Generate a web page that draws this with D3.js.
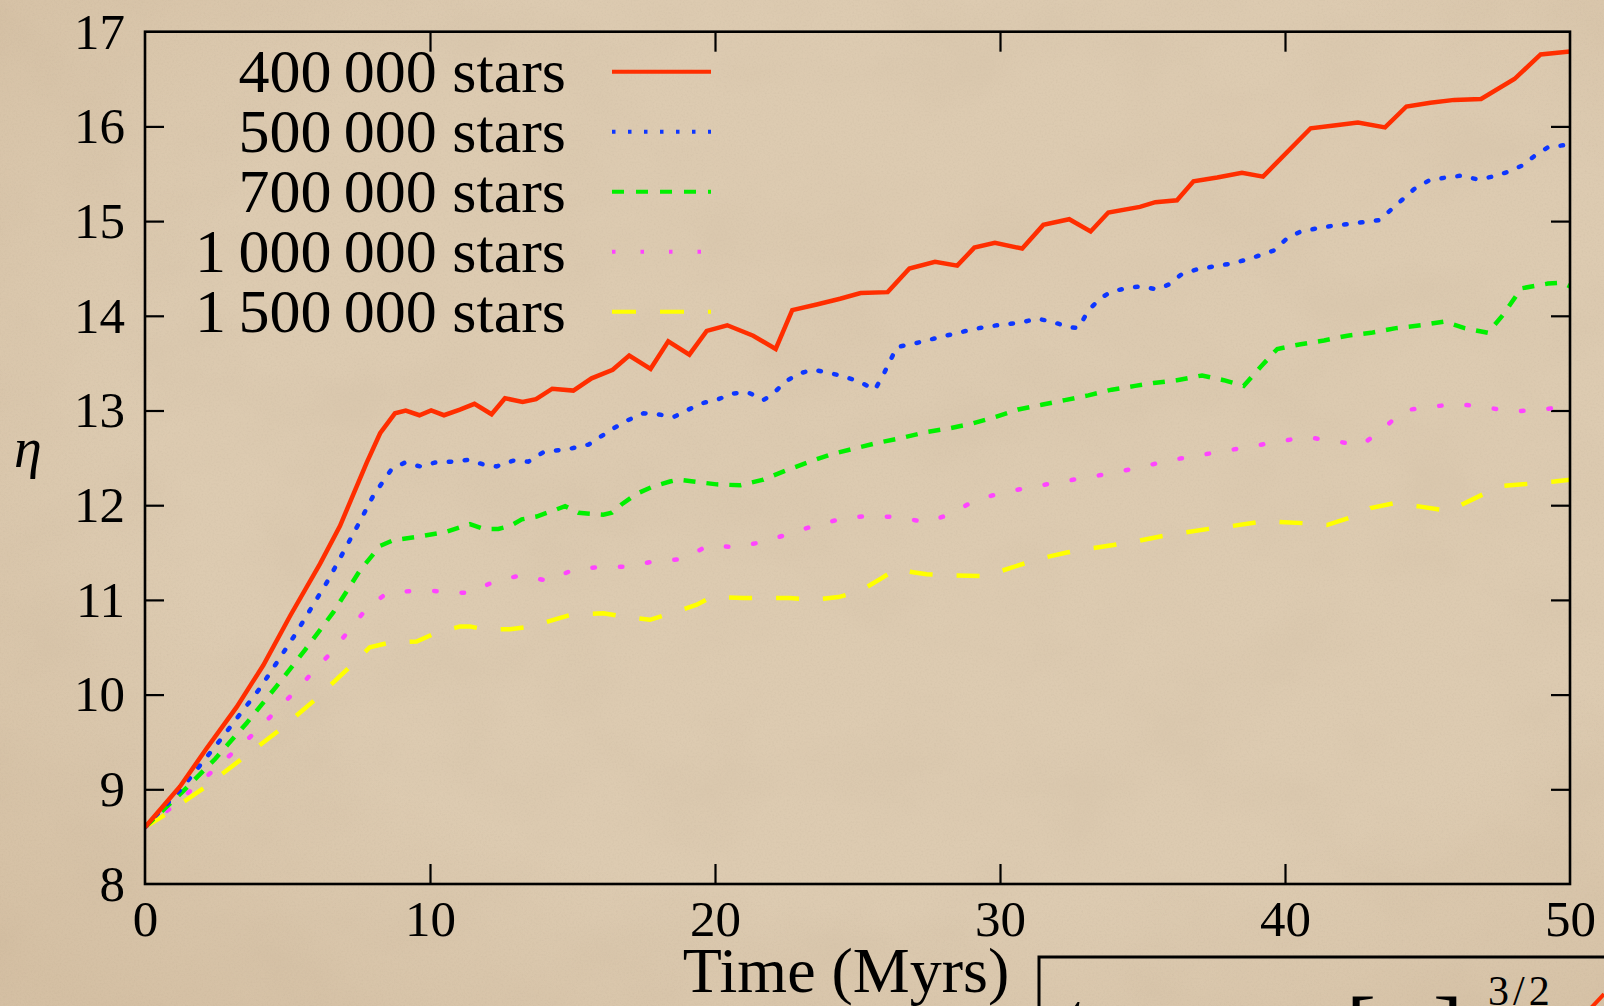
<!DOCTYPE html>
<html>
<head>
<meta charset="utf-8">
<script src="https://cdn.jsdelivr.net/npm/d3@7"></script>
<style>
  html, body { margin: 0; padding: 0; background: #dccab0; overflow: hidden; }
  svg { display: block; }
</style>
</head>
<body>
<svg id="chart" width="1604" height="1006"></svg>
<script>
// η versus time, [time (Myrs), η] samples per cluster size
const stars400k = [[0,8.60],[1.23,9.03],[2.16,9.43],[3.22,9.87],[4.15,10.31],[5.09,10.83],[6.14,11.38],[6.84,11.78],[7.78,12.45],[8.25,12.76],[8.77,12.97],[9.15,13.00],[9.63,12.95],[10.04,13.00],[10.49,12.95],[11.05,13.01],[11.56,13.07],[12.16,12.96],[12.63,13.13],[13.25,13.09],[13.72,13.12],[14.29,13.23],[15.03,13.21],[15.67,13.34],[16.41,13.43],[16.99,13.58],[17.74,13.44],[18.36,13.73],[19.10,13.59],[19.71,13.84],[20.43,13.90],[21.34,13.79],[22.13,13.65],[22.71,14.06],[23.57,14.12],[24.39,14.18],[25.11,14.24],[26.06,14.25],[26.82,14.50],[27.72,14.57],[28.50,14.53],[29.10,14.72],[29.82,14.77],[30.78,14.71],[31.52,14.96],[32.43,15.02],[33.18,14.89],[33.80,15.09],[34.91,15.15],[35.45,15.20],[36.21,15.22],[36.79,15.42],[37.62,15.46],[38.49,15.51],[39.23,15.47],[40.90,15.98],[41.72,16.01],[42.56,16.04],[43.51,15.99],[44.26,16.21],[45.10,16.25],[45.94,16.28],[46.88,16.29],[48.05,16.50],[48.97,16.76],[50.0,16.79]];

const stars500k = [[0,8.60],[1.29,9.01],[2.69,9.54],[4.04,10.07],[5.26,10.63],[6.43,11.21],[7.49,11.80],[8.01,12.10],[8.65,12.38],[9.12,12.45],[9.65,12.41],[10.18,12.45],[10.76,12.46],[11.35,12.48],[11.87,12.43],[12.34,12.41],[12.92,12.47],[13.45,12.46],[13.98,12.56],[14.97,12.60],[15.56,12.64],[16.43,12.81],[16.96,12.90],[17.49,12.97],[18.01,12.96],[18.54,12.93],[19.07,13.01],[19.59,13.08],[20.12,13.12],[20.64,13.18],[21.17,13.19],[21.70,13.11],[22.05,13.18],[22.45,13.30],[22.93,13.39],[23.45,13.43],[23.98,13.40],[24.50,13.36],[25.03,13.31],[25.61,13.22],[25.91,13.38],[26.38,13.67],[26.90,13.70],[27.43,13.74],[27.96,13.78],[28.54,13.82],[29.07,13.86],[29.65,13.89],[30.18,13.91],[30.76,13.93],[31.29,13.97],[31.81,13.94],[32.40,13.88],[32.75,13.87],[33.11,14.06],[33.51,14.18],[33.87,14.25],[34.39,14.29],[34.92,14.31],[35.50,14.28],[35.92,14.33],[36.38,14.44],[36.91,14.49],[37.49,14.52],[38.08,14.55],[38.61,14.59],[39.13,14.64],[39.61,14.69],[40.08,14.82],[40.55,14.89],[41.07,14.92],[41.66,14.95],[42.25,14.97],[42.78,14.99],[43.31,15.01],[43.72,15.12],[44.13,15.23],[44.54,15.34],[45.06,15.43],[45.65,15.46],[46.18,15.48],[46.76,15.44],[47.29,15.47],[47.82,15.52],[48.35,15.59],[48.76,15.69],[49.23,15.78],[50.0,15.81]];

const stars700k = [[0,8.60],[1.34,8.98],[2.46,9.32],[3.57,9.70],[4.62,10.09],[5.61,10.47],[6.61,10.87],[7.54,11.31],[8.25,11.57],[8.71,11.63],[9.65,11.67],[10.59,11.72],[11.40,11.80],[11.87,11.75],[12.40,11.75],[12.81,11.78],[13.22,11.85],[13.74,11.88],[14.39,11.95],[14.74,11.99],[15.21,11.92],[16.08,11.90],[16.38,11.92],[16.73,12.01],[17.25,12.12],[17.84,12.20],[18.42,12.25],[18.71,12.27],[19.24,12.25],[20.06,12.22],[20.88,12.21],[21.70,12.27],[22.52,12.37],[23.33,12.46],[24.10,12.54],[24.91,12.60],[25.73,12.66],[26.55,12.71],[27.37,12.77],[28.19,12.81],[29.00,12.86],[29.82,12.93],[30.64,13.01],[31.46,13.06],[32.28,13.11],[33.10,13.16],[33.92,13.22],[34.74,13.26],[35.39,13.29],[36.21,13.32],[37.09,13.37],[37.85,13.32],[38.55,13.26],[39.14,13.46],[39.73,13.65],[40.55,13.70],[41.37,13.74],[42.19,13.79],[43.02,13.82],[43.89,13.87],[44.77,13.90],[45.60,13.94],[46.30,13.87],[47.12,13.82],[47.65,14.01],[48.29,14.29],[49.23,14.34],[49.70,14.35],[50.0,14.31]];

const stars1000k = [[0,8.60],[0.94,8.81],[2.40,9.20],[3.86,9.60],[5.19,10.01],[6.55,10.45],[7.78,10.91],[8.48,11.07],[9.53,11.10],[10.47,11.09],[11.40,11.07],[12.28,11.20],[13.22,11.26],[14.15,11.20],[15.03,11.32],[16.02,11.35],[16.96,11.35],[17.90,11.41],[18.87,11.43],[19.73,11.57],[20.70,11.56],[21.68,11.61],[22.61,11.70],[23.55,11.79],[24.50,11.86],[25.46,11.89],[26.46,11.87],[27.41,11.82],[28.31,11.91],[29.16,12.06],[30.10,12.13],[31.05,12.19],[32.01,12.24],[32.98,12.29],[33.95,12.34],[34.92,12.40],[35.88,12.47],[36.85,12.52],[37.83,12.57],[38.79,12.62],[39.75,12.67],[40.72,12.72],[41.69,12.68],[42.66,12.63],[43.42,12.80],[44.16,13.00],[45.12,13.04],[46.09,13.07],[47.08,13.03],[48.05,12.99],[49.03,13.01],[50.0,13.05]];

const stars1500k = [[0,8.60],[0.64,8.72],[2.05,9.01],[3.39,9.32],[4.74,9.63],[6.02,9.96],[7.25,10.31],[7.89,10.50],[8.60,10.55],[9.53,10.56],[10.12,10.64],[11.05,10.72],[11.40,10.72],[11.87,10.69],[12.81,10.69],[13.57,10.72],[14.45,10.80],[14.92,10.84],[16.08,10.86],[16.85,10.82],[17.72,10.79],[18.48,10.86],[19.36,10.95],[19.88,11.03],[20.99,11.02],[22.63,11.02],[23.43,11.00],[24.33,11.03],[25.07,11.09],[25.85,11.23],[26.32,11.32],[27.43,11.27],[28.19,11.26],[29.53,11.25],[29.88,11.29],[30.70,11.37],[31.46,11.44],[32.34,11.50],[33.10,11.54],[33.98,11.58],[34.80,11.62],[35.62,11.67],[36.45,11.71],[37.32,11.75],[38.14,11.78],[39.02,11.82],[39.43,11.83],[40.66,11.81],[41.47,11.79],[42.30,11.87],[43.00,11.97],[43.82,12.02],[44.64,11.99],[45.76,11.94],[46.23,12.01],[47.05,12.13],[47.52,12.20],[48.69,12.23],[49.45,12.25],[50.0,12.27]];

const seriesLabels = ["400\u2009000 stars", "500\u2009000 stars", "700\u2009000 stars", "1\u2009000\u2009000 stars", "1\u2009500\u2009000 stars"];
const xTicks = [0, 10, 20, 30, 40, 50];
const yTicks = [8, 9, 10, 11, 12, 13, 14, 15, 16, 17];

// line styles for each series (plot line dash, legend sample dash)
const styles = [
  { color: "#ff2e00", dash: null,       keyDash: null,       cap: "butt" },
  { color: "#0d36ff", dash: "2.5,13.5", keyDash: "3.5,12.5", cap: "round" },
  { color: "#00f000", dash: "12,11",    keyDash: "12,12",    cap: "butt" },
  { color: "#ff44ff", dash: "2.5,25",   keyDash: "3.5,25",   cap: "round" },
  { color: "#ffff00", dash: "23,24",    keyDash: "24,24",    cap: "butt" }
];
const allSeries = [stars400k, stars500k, stars700k, stars1000k, stars1500k];

const svg = d3.select("#chart");
const W = 1604, H = 1006;
const plot = { left: 145, right: 1570, top: 31.7, bottom: 884 };
const serif = '"Liberation Serif", "DejaVu Serif", serif';

// parchment background
const defs = svg.append("defs");
const grain = defs.append("filter").attr("id", "paper").attr("x", 0).attr("y", 0).attr("width", "100%").attr("height", "100%");
grain.append("feTurbulence").attr("type", "fractalNoise").attr("baseFrequency", "0.008 0.011").attr("numOctaves", 4).attr("seed", 7).attr("result", "blot");
grain.append("feColorMatrix").attr("in", "blot").attr("type", "matrix")
  .attr("values", "0 0 0 0 0.62  0 0 0 0 0.50  0 0 0 0 0.36  0 0 0 -1.1 0.62").attr("result", "blotC");
grain.append("feTurbulence").attr("type", "fractalNoise").attr("baseFrequency", "0.55").attr("numOctaves", 2).attr("seed", 3).attr("result", "fine");
grain.append("feColorMatrix").attr("in", "fine").attr("type", "matrix")
  .attr("values", "0 0 0 0 0.55  0 0 0 0 0.45  0 0 0 0 0.33  0 0 0 -0.9 0.52").attr("result", "fineC");
grain.append("feMerge").selectAll("feMergeNode").data(["blotC", "fineC"]).join("feMergeNode").attr("in", d => d);

const vign = defs.append("radialGradient").attr("id", "vign").attr("cx", "58%").attr("cy", "42%").attr("r", "78%");
vign.append("stop").attr("offset", "62%").attr("stop-color", "#a07a50").attr("stop-opacity", 0);
vign.append("stop").attr("offset", "100%").attr("stop-color", "#a07a50").attr("stop-opacity", 0.14);

svg.append("rect").attr("width", W).attr("height", H).attr("fill", "#ddcbb1");
svg.append("rect").attr("width", W).attr("height", H).attr("filter", "url(#paper)").attr("opacity", 0.5);
svg.append("rect").attr("width", W).attr("height", H).attr("fill", "url(#vign)");

const x = d3.scaleLinear().domain([0, 50]).range([plot.left, plot.right]);
const y = d3.scaleLinear().domain([8, 17]).range([plot.bottom, plot.top]);

// axes: inward ticks on all four sides
const axStyle = g => {
  g.select(".domain").remove();
  g.selectAll(".tick line").attr("stroke", "#000").attr("stroke-width", 2.2);
  g.selectAll(".tick text").attr("font-family", serif).attr("font-size", 51).attr("fill", "#000");
};
svg.append("g").attr("transform", `translate(0,${plot.bottom})`)
  .call(d3.axisBottom(x).tickValues(xTicks).tickFormat(d3.format("d")).tickSize(-20).tickPadding(16)).call(axStyle);
svg.append("g").attr("transform", `translate(0,${plot.top})`)
  .call(d3.axisTop(x).tickValues(xTicks.slice(1, -1)).tickFormat("").tickSize(-20)).call(axStyle);
svg.append("g").attr("transform", `translate(${plot.left},0)`)
  .call(d3.axisLeft(y).tickValues(yTicks).tickFormat(d3.format("d")).tickSize(-19).tickPadding(20)).call(axStyle);
svg.append("g").attr("transform", `translate(${plot.right},0)`)
  .call(d3.axisRight(y).tickValues(yTicks.slice(1, -1)).tickFormat("").tickSize(-19)).call(axStyle);

// end ticks coincide with the frame
svg.selectAll(".tick").filter(d => d === 0 || d === 50 || d === 8 || d === 17).select("line").remove();

// data lines
const line = d3.line().x(d => x(d[0])).y(d => y(d[1]));
const clip = defs.append("clipPath").attr("id", "plotClip");
clip.append("rect").attr("x", plot.left).attr("y", plot.top).attr("width", plot.right - plot.left).attr("height", plot.bottom - plot.top);

const linesG = svg.append("g").attr("clip-path", "url(#plotClip)");
for (let i = allSeries.length - 1; i >= 0; i--) {
  linesG.append("path")
    .datum(allSeries[i])
    .attr("d", line)
    .attr("fill", "none")
    .attr("stroke", styles[i].color)
    .attr("stroke-width", 4.5)
    .attr("stroke-linejoin", "miter")
    .attr("stroke-linecap", styles[i].cap)
    .attr("stroke-dasharray", styles[i].dash);
}

// frame
svg.append("rect")
  .attr("x", plot.left).attr("y", plot.top)
  .attr("width", plot.right - plot.left).attr("height", plot.bottom - plot.top)
  .attr("fill", "none").attr("stroke", "#000").attr("stroke-width", 2.6);

// legend
const legend = svg.append("g");
seriesLabels.forEach((label, i) => {
  const base = 91.7 + i * 60;
  legend.append("text")
    .attr("x", 566).attr("y", base)
    .attr("text-anchor", "end")
    .attr("font-family", serif).attr("font-size", 62)
    .attr("fill", "#000")
    .text(label);
  legend.append("line")
    .attr("x1", 612).attr("x2", 711)
    .attr("y1", base - 20).attr("y2", base - 20)
    .attr("stroke", styles[i].color).attr("stroke-width", 4)
    .attr("stroke-dasharray", styles[i].keyDash);
});

// axis titles
svg.append("text")
  .attr("x", 846).attr("y", 992)
  .attr("text-anchor", "middle")
  .attr("font-family", serif).attr("font-size", 64)
  .attr("fill", "#000")
  .text("Time (Myrs)");

svg.append("text")
  .attr("x", 14).attr("y", 467)
  .attr("font-family", serif).attr("font-style", "italic").attr("font-size", 56)
  .attr("fill", "#000")
  .text("η");

// formula box at the lower right (its lower part runs past the page edge)
const box = svg.append("g");
box.append("rect")
  .attr("x", 1039).attr("y", 957).attr("width", 620).attr("height", 120)
  .attr("fill", "none").attr("stroke", "#000").attr("stroke-width", 3);
box.append("text").attr("x", 1066).attr("y", 1038)
  .attr("font-family", serif).attr("font-style", "italic").attr("font-size", 64).attr("fill", "#000").text("t");
box.append("text").attr("x", 1346).attr("y", 1060)
  .attr("font-family", serif).attr("font-size", 90).attr("font-weight", 300).attr("fill", "#000").text("[");
box.append("text").attr("x", 1433).attr("y", 1060)
  .attr("font-family", serif).attr("font-size", 90).attr("font-weight", 300).attr("fill", "#000").text("]");
box.append("text").attr("x", 1488).attr("y", 1005)
  .attr("font-family", serif).attr("font-size", 42).attr("letter-spacing", 4).attr("fill", "#000").text("3/2");
box.append("path")
  .attr("d", "M1591,1008 L1604,994")
  .attr("stroke", "#ff2e00").attr("stroke-width", 4).attr("fill", "none");
</script>
</body>
</html>
